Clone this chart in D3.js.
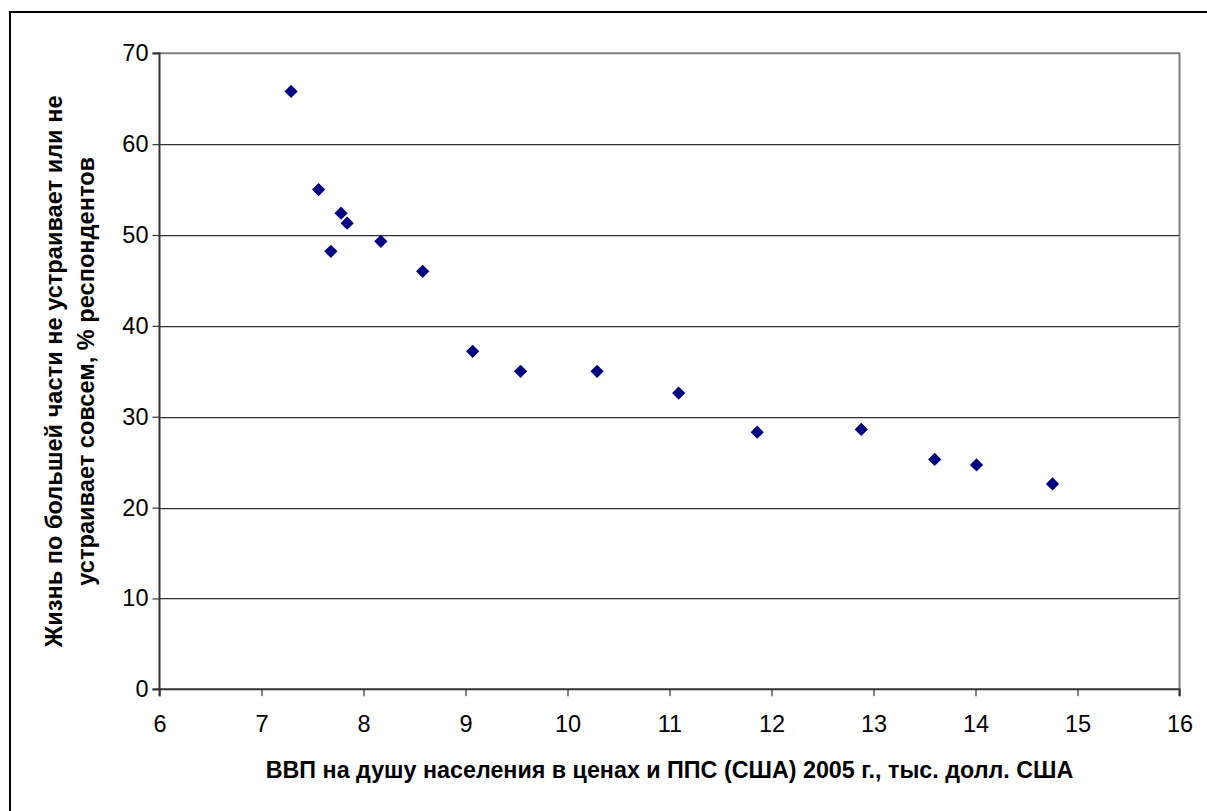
<!DOCTYPE html>
<html>
<head>
<meta charset="utf-8">
<script src="https://cdn.jsdelivr.net/npm/d3@7"></script>
<style>
  html, body { margin: 0; padding: 0; background: #fff; }
  svg { display: block; font-family: "Liberation Sans", Arial, sans-serif; }
</style>
</head>
<body>
<svg id="chart" width="1207" height="811"></svg>
<script>
const gdp = [7.29, 7.56, 7.68, 7.78, 7.84, 8.17, 8.58, 9.07, 9.54, 10.29, 11.09, 11.86, 12.88, 13.60, 14.01, 14.755];
const dissatisfied = [65.8, 55.0, 48.2, 52.4, 51.3, 49.3, 46.0, 37.2, 35.0, 35.0, 32.6, 28.3, 28.6, 25.3, 24.7, 22.6];
const xTicks = [6, 7, 8, 9, 10, 11, 12, 13, 14, 15, 16];
const yTicks = [0, 10, 20, 30, 40, 50, 60, 70];
const xTitle = "ВВП на душу населения в ценах и ППС (США) 2005 г., тыс. долл. США";
const yTitleLines = ["Жизнь по большей части не устраивает или не", "устраивает совсем, % респондентов"];

const svg = d3.select("#chart");
const pLeft = 159.5, pRight = 1179.5, pTop = 53.3, pBottom = 689.3;

const x = d3.scaleLinear().domain([6, 16]).range([pLeft, pRight]);
const y = d3.scaleLinear().domain([0, 70]).range([pBottom, pTop]);

// outer border
svg.append("rect").attr("x", 10).attr("y", 12).attr("width", 1300).attr("height", 900)
  .attr("fill", "none").attr("stroke", "#000").attr("stroke-width", 2);

// plot area border (right/top)
svg.append("path")
  .attr("d", `M${pLeft},${pTop}H${pRight}V${pBottom}`)
  .attr("fill", "none").attr("stroke", "#808080").attr("stroke-width", 2);

// gridlines
const grid = svg.append("g");
yTicks.filter(t => t > 0 && t < 70).forEach(t => {
  grid.append("line").attr("x1", pLeft).attr("x2", pRight)
    .attr("y1", Math.round(y(t)) + 0.5).attr("y2", Math.round(y(t)) + 0.5)
    .attr("stroke", "#333").attr("stroke-width", 1);
  grid.append("line").attr("x1", pLeft).attr("x2", pRight)
    .attr("y1", Math.round(y(t)) + 1.5).attr("y2", Math.round(y(t)) + 1.5)
    .attr("stroke", "#c8c8c8").attr("stroke-width", 1);
});

// axes
const yAxis = d3.axisLeft(y).tickValues(yTicks).tickSize(7).tickPadding(4);
const xAxis = d3.axisBottom(x).tickValues(xTicks).tickSize(7).tickPadding(19);

const gy = svg.append("g").attr("transform", `translate(${pLeft},0)`).call(yAxis);
const gx = svg.append("g").attr("transform", `translate(0,${pBottom})`).call(xAxis);
[gx, gy].forEach(g => {
  g.select(".domain").attr("stroke", "#333").attr("stroke-width", 2);
  g.selectAll(".tick line").attr("stroke", "#333").attr("stroke-width", 1.2);
  g.selectAll(".tick text").attr("font-size", 23.5).attr("fill", "#000")
    .attr("font-family", "'Liberation Sans', Arial, sans-serif");
});
gy.select(".domain").attr("d", `M-7,${pTop}H0V${pBottom}H-7`);
gx.select(".domain").attr("d", `M${pLeft},7V0H${pRight}V7`);

// points
svg.append("g").selectAll("path").data(gdp.map((g, i) => [g, dissatisfied[i]]))
  .join("path")
  .attr("d", d3.symbol(d3.symbolSquare, 88))
  .attr("transform", d => `translate(${x(d[0])},${y(d[1])}) rotate(45)`)
  .attr("fill", "#000080");

// axis titles
svg.append("text").attr("x", (pLeft + pRight) / 2).attr("y", 778)
  .attr("text-anchor", "middle").attr("font-size", 23.3).attr("font-weight", "bold")
  .text(xTitle);

const yt = svg.append("g").attr("transform", `translate(0,${(pTop + pBottom) / 2})`);
yTitleLines.forEach((line, i) => {
  yt.append("text").attr("transform", `translate(${62 + i * 32},0) rotate(-90)`)
    .attr("text-anchor", "middle").attr("font-size", 23.6).attr("font-weight", "bold")
    .text(line);
});
</script>
</body>
</html>
